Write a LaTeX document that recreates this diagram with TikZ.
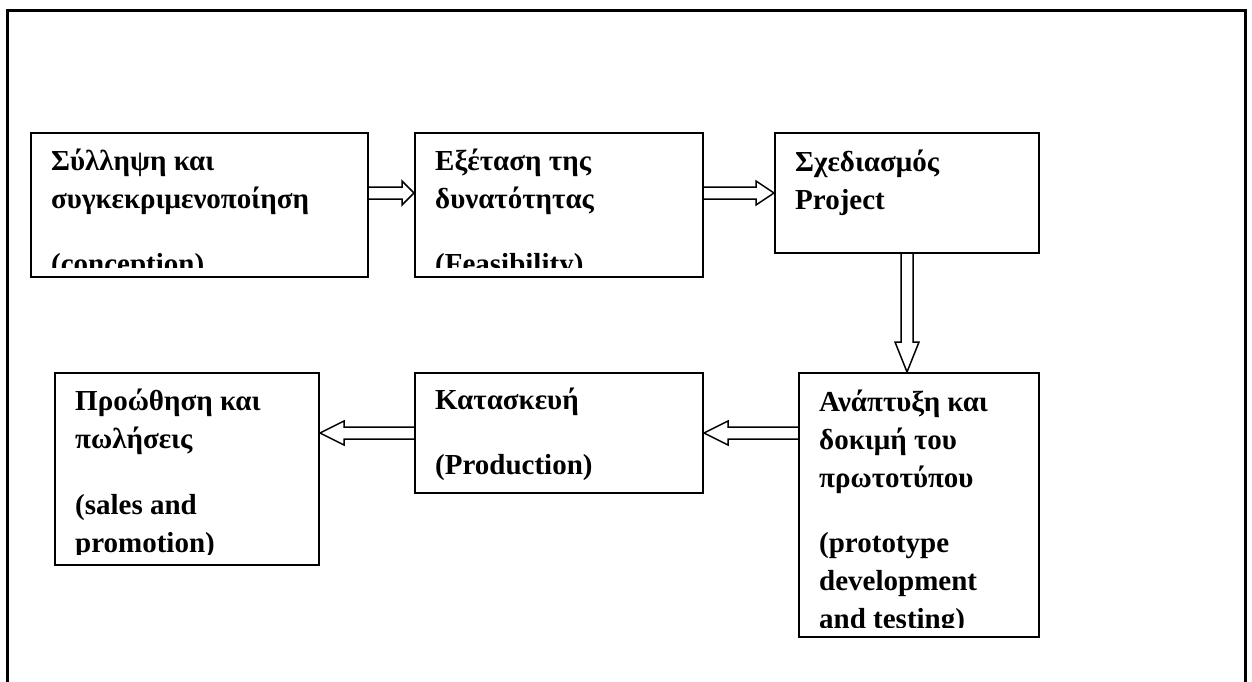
\documentclass[tikz,border=0pt]{standalone}
\usepackage{fontspec}
\setmainfont{Liberation Serif}
\usetikzlibrary{calc}

\begin{document}
\begin{tikzpicture}[x=1pt,y=-1pt]
    \tikzstyle{stage}=[rectangle, draw=black, line width=2pt, inner sep=0pt];
    \tikzstyle{stagetext}=[inner sep=0pt, anchor=base west, font=\fontsize{29}{38}\selectfont\bfseries];
    \tikzstyle{hollow}=[draw=black, line width=1.5pt];

    \useasboundingbox (0,0) rectangle (1252,681);
    % outer frame, open at the bottom
    \draw[line width=3pt] (7,700) -- (7,10) -- (1245,10) -- (1245,700);

    \node[stage, minimum width=337pt, minimum height=144pt] (conception) at (199.5,205) {};
    \node[stage, minimum width=288pt, minimum height=144pt] (feasibility) at (559,205) {};
    \node[stage, minimum width=264pt, minimum height=120pt] (planning) at (907,193) {};
    \node[stage, minimum width=240pt, minimum height=264pt] (prototype) at (919,505) {};
    \node[stage, minimum width=288pt, minimum height=120pt] (production) at (559,433) {};
    \node[stage, minimum width=264pt, minimum height=192pt] (sales) at (187,469) {};

    % texts, cut off at the inner margin of each box
    \begin{scope}
    \clip (conception.north west) rectangle ($(conception.south east)+(0,-11)$);
    \node[stagetext] (t1) at ($(conception.north west)+(21,38)$)
    {\begin{tabular}[t]{@{}l@{}}Σύλληψη και\\συγκεκριμενοποίηση\\[27pt](conception)\end{tabular}};
    \end{scope}
    \begin{scope}
    \clip (feasibility.north west) rectangle ($(feasibility.south east)+(0,-11)$);
    \node[stagetext] (t2) at ($(feasibility.north west)+(21,38)$)
    {\begin{tabular}[t]{@{}l@{}}Εξέταση της\\δυνατότητας\\[27pt](Feasibility)\end{tabular}};
    \end{scope}
    \begin{scope}
    \clip (planning.north west) rectangle ($(planning.south east)+(0,-11)$);
    \node[stagetext] (t3) at ($(planning.north west)+(21,39)$)
    {\begin{tabular}[t]{@{}l@{}}Σχεδιασμός\\Project\end{tabular}};
    \end{scope}
    \begin{scope}
    \clip (prototype.north west) rectangle ($(prototype.south east)+(0,-11)$);
    \node[stagetext] (t4) at ($(prototype.north west)+(21,39)$)
    {\begin{tabular}[t]{@{}l@{}}Ανάπτυξη και\\δοκιμή του\\πρωτοτύπου\\[27pt](prototype\\development\\and testing)\end{tabular}};
    \end{scope}
    \begin{scope}
    \clip (production.north west) rectangle ($(production.south east)+(0,-11)$);
    \node[stagetext] (t5) at ($(production.north west)+(21,37)$)
    {\begin{tabular}[t]{@{}l@{}}Κατασκευή\\[27pt](Production)\end{tabular}};
    \end{scope}
    \begin{scope}
    \clip (sales.north west) rectangle ($(sales.south east)+(0,-12)$);
    \node[stagetext] (t6) at ($(sales.north west)+(21,38)$)
    {\begin{tabular}[t]{@{}l@{}}Προώθηση και\\πωλήσεις\\[28pt](sales and\\promotion)\end{tabular}};
    \end{scope}

    % hollow arrows between the stages
    \coordinate (a1) at (conception.east |- planning.west);
    \coordinate (b1) at (feasibility.west |- planning.west);
    \draw[hollow] ($(a1)+(0,-6)$) -- ($(b1)+(-12,-6)$) -- ($(b1)+(-12,-12)$) -- (b1)
        -- ($(b1)+(-12,12)$) -- ($(b1)+(-12,6)$) -- ($(a1)+(0,6)$);

    \coordinate (a2) at (feasibility.east |- planning.west);
    \draw[hollow] ($(a2)+(0,-6)$) -- ($(planning.west)+(-18,-6)$) -- ($(planning.west)+(-18,-12)$) -- (planning.west)
        -- ($(planning.west)+(-18,12)$) -- ($(planning.west)+(-18,6)$) -- ($(a2)+(0,6)$);

    \coordinate (b3) at (planning.south |- prototype.north);
    \draw[hollow] ($(planning.south)+(-6,0)$) -- ($(b3)+(-6,-30)$) -- ($(b3)+(-12,-30)$) -- (b3)
        -- ($(b3)+(12,-30)$) -- ($(b3)+(6,-30)$) -- ($(planning.south)+(6,0)$);

    \coordinate (a4) at (prototype.west |- production.east);
    \draw[hollow] ($(a4)+(0,-6)$) -- ($(production.east)+(24,-6)$) -- ($(production.east)+(24,-12)$) -- (production.east)
        -- ($(production.east)+(24,12)$) -- ($(production.east)+(24,6)$) -- ($(a4)+(0,6)$);

    \coordinate (b5) at (sales.east |- production.west);
    \draw[hollow] ($(production.west)+(0,-6)$) -- ($(b5)+(24,-6)$) -- ($(b5)+(24,-12)$) -- (b5)
        -- ($(b5)+(24,12)$) -- ($(b5)+(24,6)$) -- ($(production.west)+(0,6)$);
\end{tikzpicture}
\end{document}
